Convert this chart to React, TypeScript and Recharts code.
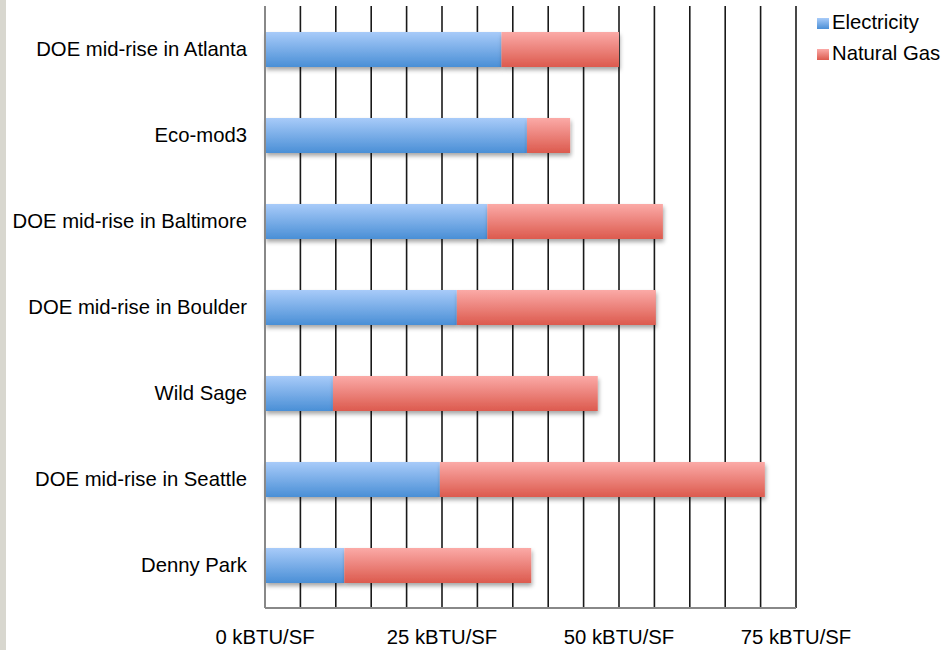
import React from "react";
import { BarChart, Bar, XAxis, YAxis, CartesianGrid } from "recharts";

const categories = [
  "DOE mid-rise in Atlanta",
  "Eco-mod3",
  "DOE mid-rise in Baltimore",
  "DOE mid-rise in Boulder",
  "Wild Sage",
  "DOE mid-rise in Seattle",
  "Denny Park",
];
const electricity = [33.4, 37.0, 31.4, 27.1, 9.6, 24.7, 11.2];
const naturalGas = [16.6, 6.1, 24.8, 28.1, 37.4, 45.9, 26.4];
const xTicks = [0, 5, 10, 15, 20, 25, 30, 35, 40, 45, 50, 55, 60, 65, 70, 75];
const labeledTicks = [0, 25, 50, 75];
const unit = "kBTU/SF";
const seriesNames = ["Electricity", "Natural Gas"];

const data = categories.map((name, i) => ({
  name,
  Electricity: electricity[i],
  "Natural Gas": naturalGas[i],
}));

const FONT = "'Liberation Sans', Arial, sans-serif";
const FS = 20.3;
const legendGrads = ["linear-gradient(#a8cbf9, #4a8fd6)", "linear-gradient(#fbaaa7, #dc5a4e)"];

const LegendBox = () => (
  <div style={{ position: "absolute", left: 817, top: 7, fontFamily: FONT, fontSize: FS, color: "#000" }}>
    {seriesNames.map((label, i) => (
      <div key={label} style={{ display: "flex", alignItems: "center", height: 31 }}>
        <div style={{ width: 12, height: 11, background: legendGrads[i], marginRight: 3, marginTop: 2 }} />
        <span>{label}</span>
      </div>
    ))}
  </div>
);

export default function App() {
  return (
    <div style={{ position: "absolute", left: 0, top: 0, width: 941, height: 650, background: "#fff" }}>
      <div style={{ position: "absolute", left: 0, top: 0, width: 6, height: 650, background: "#d8d7cf" }} />
      <BarChart
        width={941}
        height={650}
        data={data}
        layout="vertical"
        margin={{ top: 6, right: 145, bottom: 12, left: 0 }}
        barCategoryGap={0}
      >
        <defs>
          <linearGradient id="gBlue" x1="0" y1="0" x2="0" y2="1">
            <stop offset="0%" stopColor="#a8cbf9" />
            <stop offset="100%" stopColor="#4a8fd6" />
          </linearGradient>
          <linearGradient id="gRed" x1="0" y1="0" x2="0" y2="1">
            <stop offset="0%" stopColor="#fbaaa7" />
            <stop offset="100%" stopColor="#dc5a4e" />
          </linearGradient>
          <filter id="shadow" x="-5%" y="-20%" width="115%" height="160%">
            <feDropShadow dx="1" dy="3" stdDeviation="2" floodColor="#000" floodOpacity="0.35" />
          </filter>
        </defs>
        <CartesianGrid horizontal={false} stroke="#000" strokeWidth={1.6} strokeOpacity={0.9} />
        <XAxis
          type="number"
          domain={[0, 75]}
          ticks={xTicks}
          interval={0}
          height={30}
          tickLine={false}
          tickSize={6}
          tickMargin={16}
          axisLine={{ stroke: "#888", strokeWidth: 2 }}
          tick={{ fill: "#000", fontSize: FS, fontFamily: FONT }}
          tickFormatter={(v: number) => (labeledTicks.includes(v) ? `${v} ${unit}` : "")}
        />
        <XAxis
          xAxisId="top"
          orientation="top"
          type="number"
          domain={[0, 75]}
          height={0}
          tick={false}
          tickLine={false}
          axisLine={{ stroke: "#000", strokeWidth: 2 }}
        />
        <YAxis
          type="category"
          dataKey="name"
          width={265}
          tickLine={false}
          tickSize={6}
          tickMargin={12}
          axisLine={{ stroke: "#888", strokeWidth: 2 }}
          tick={{ fill: "#000", fontSize: FS, fontFamily: FONT }}
          interval={0}
        />
        <Bar dataKey="Electricity" stackId="a" fill="url(#gBlue)" barSize={35} isAnimationActive={false} filter="url(#shadow)" />
        <Bar dataKey="Natural Gas" stackId="a" fill="url(#gRed)" barSize={35} isAnimationActive={false} filter="url(#shadow)" />
      </BarChart>
      <LegendBox />
    </div>
  );
}
